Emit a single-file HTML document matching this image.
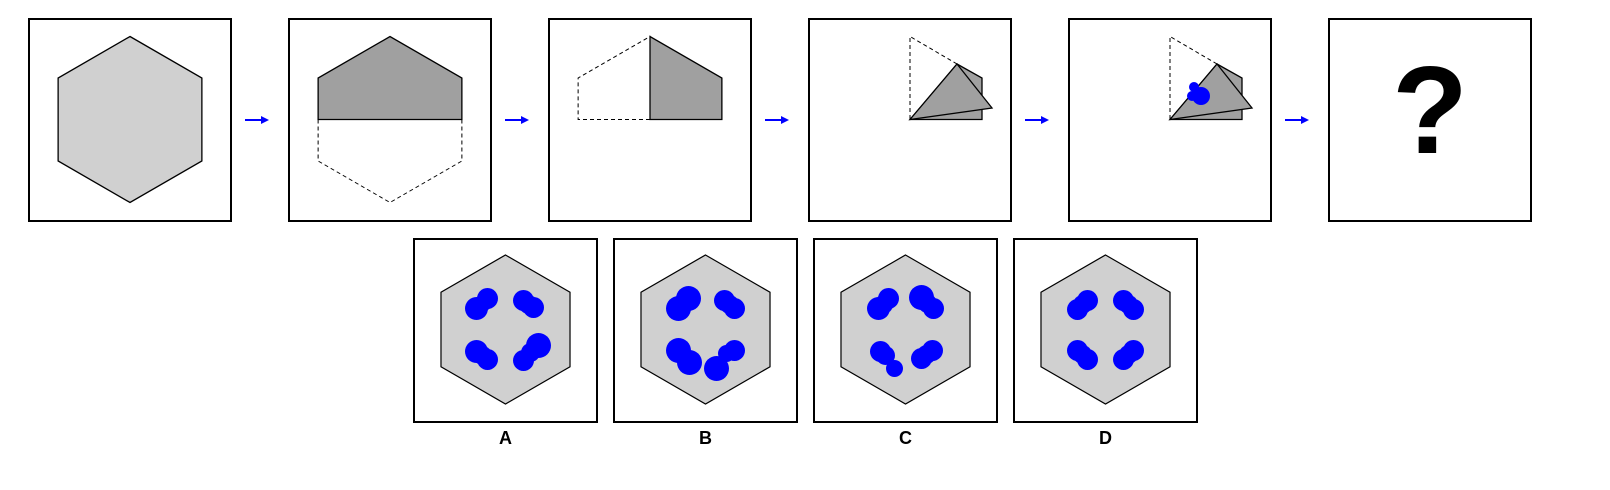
<!DOCTYPE html>
<html><head><meta charset="utf-8"><style>
html,body{margin:0;padding:0;background:#fff;}
svg{display:block;}
text{font-family:"Liberation Sans",Arial,sans-serif;font-weight:bold;}
</style></head><body>
<svg id="s" width="1610" height="490" viewBox="0 0 1610 490">
<defs>
<marker id="ah" markerWidth="4" markerHeight="4" refX="2" refY="2" orient="auto"><path d="M0,0 L4,2 L0,4 z" fill="#0000ff"/></marker>
</defs>
<g id="topg"></g>
<g id="opts"></g>
</svg>
<script>
const optLabels=['A','B','C','D'];
const optBlobs=[
 [[-29,-21,10],[-18,-31,9],[-23,-26,7],[18,-29,9],[28,-22,9],[23,-25,8],[-29,22,10],[-18,30,9],[-23,26,8],[33,16,11],[18,31,9],[25,23,8]],
 [[-27,-21,11],[-17,-31,11],[19,-29,9],[29,-21,9],[24,-25,8],[-27,21,11],[-16,33,11],[29,21,9],[21,24,7],[11,39,11]],
 [[-27,-21,10],[-17,-31,9],[-22,-25,8],[16,-32,11],[28,-21,9],[22,-26,8],[-25,22,9],[-20,26,8],[-11,39,7],[16,29,9],[27,21,9],[21,25,8]],
 [[-28,-20,9],[-18,-29,9],[-23,-25,8],[18,-29,9],[28,-20,9],[23,-25,8],[-28,21,9],[-18,30,9],[-23,25,8],[18,30,9],[28,21,9],[23,25,8]]
];
(function(){
const NS='http://www.w3.org/2000/svg';
function mk(tag,attrs,parent){const e=document.createElementNS(NS,tag);for(const k in attrs)e.setAttribute(k,attrs[k]);parent.appendChild(e);return e;}
function hexPts(cx,cy,R){const w=R*0.866;return [[cx,cy-R],[cx+w,cy-R/2],[cx+w,cy+R/2],[cx,cy+R],[cx-w,cy+R/2],[cx-w,cy-R/2]];}
function ps(a){return a.map(p=>p.join(',')).join(' ');}
const topG=document.getElementById('topg');
const lefts=[29,289,549,809,1069,1329];
const names=['step-1-hexagon','step-2-fold-half','step-3-fold-quarter','step-4-fold-triangle','step-5-punch-hole','step-6-question'];
lefts.forEach((L,i)=>{
  const g=mk('g',{},topG);
  
  
  mk('rect',{x:L,y:19,width:202,height:202,fill:'#fff',stroke:'#000','stroke-width':2},g);
  const cx=L+101,cy=119.5,R=83,w=R*0.866;
  const H=hexPts(cx,cy,R);
  if(i===0){mk('polygon',{points:ps(H),fill:'#d0d0d0',stroke:'#000','stroke-width':1.3},g);}
  if(i===1){
    mk('polygon',{points:ps([[cx-w,cy],[cx-w,cy+R/2],[cx,cy+R],[cx+w,cy+R/2],[cx+w,cy]]),fill:'none',stroke:'#000','stroke-width':1,'stroke-dasharray':'4,3'},g);
    mk('polygon',{points:ps([[cx-w,cy],[cx-w,cy-R/2],[cx,cy-R],[cx+w,cy-R/2],[cx+w,cy]]),fill:'#a0a0a0',stroke:'#000','stroke-width':1.3},g);
  }
  if(i===2){
    mk('polygon',{points:ps([[cx,cy],[cx-w,cy],[cx-w,cy-R/2],[cx,cy-R]]),fill:'none',stroke:'#000','stroke-width':1,'stroke-dasharray':'4,3'},g);
    mk('polygon',{points:ps([[cx,cy],[cx,cy-R],[cx+w,cy-R/2],[cx+w,cy]]),fill:'#a0a0a0',stroke:'#000','stroke-width':1.3},g);
  }
  if(i===3||i===4){
    mk('polyline',{points:ps([[cx+47,64],[cx,cy-R],[cx,cy]]),fill:'none',stroke:'#000','stroke-width':1,'stroke-dasharray':'4,3'},g);
    mk('polygon',{points:ps([[cx,cy],[cx+47,64],[cx+72,78],[cx+72,cy]]),fill:'#a0a0a0',stroke:'#000','stroke-width':1.3},g);
    mk('polygon',{points:ps([[cx,cy],[cx+47,64],[cx+82,108]]),fill:'#a0a0a0',stroke:'#000','stroke-width':1.3},g);
    if(i===4){
      mk('circle',{cx:cx+31,cy:96,r:9,fill:'#0000ff'},g);
      mk('circle',{cx:cx+24,cy:87,r:5,fill:'#0000ff'},g);
      mk('circle',{cx:cx+22,cy:96,r:5,fill:'#0000ff'},g);
    }
  }
  if(i===5){
    const t=mk('text',{x:cx,y:153,'text-anchor':'middle','font-size':124,fill:'#000'},g);t.textContent='?';
  }
  if(i<5){
    const a=mk('line',{x1:L+216,y1:120,x2:L+236,y2:120,stroke:'#0000ff','stroke-width':2,'marker-end':'url(#ah)'},topG);
    
    
  }
});
const optLefts=[414,614,814,1014];
const opts=document.getElementById('opts');
optLefts.forEach((L,i)=>{
  const g=mk('g',{},opts);
  
  
  mk('rect',{x:L,y:239,width:183,height:183,fill:'#fff',stroke:'#000','stroke-width':2},g);
  const cx=L+91.5,cy=329.5;
  mk('polygon',{points:ps(hexPts(cx,cy,74.5)),fill:'#d0d0d0',stroke:'#000','stroke-width':1.2},g);
  optBlobs[i].forEach(b=>{mk('circle',{cx:cx+b[0],cy:cy+b[1],r:b[2]+1.5,fill:'#0000ff'},g);});
  const t=mk('text',{x:cx,y:444,'text-anchor':'middle','font-size':18,fill:'#000'},g);
  
  
  t.textContent=optLabels[i];
});
})();
</script>
</body></html>
